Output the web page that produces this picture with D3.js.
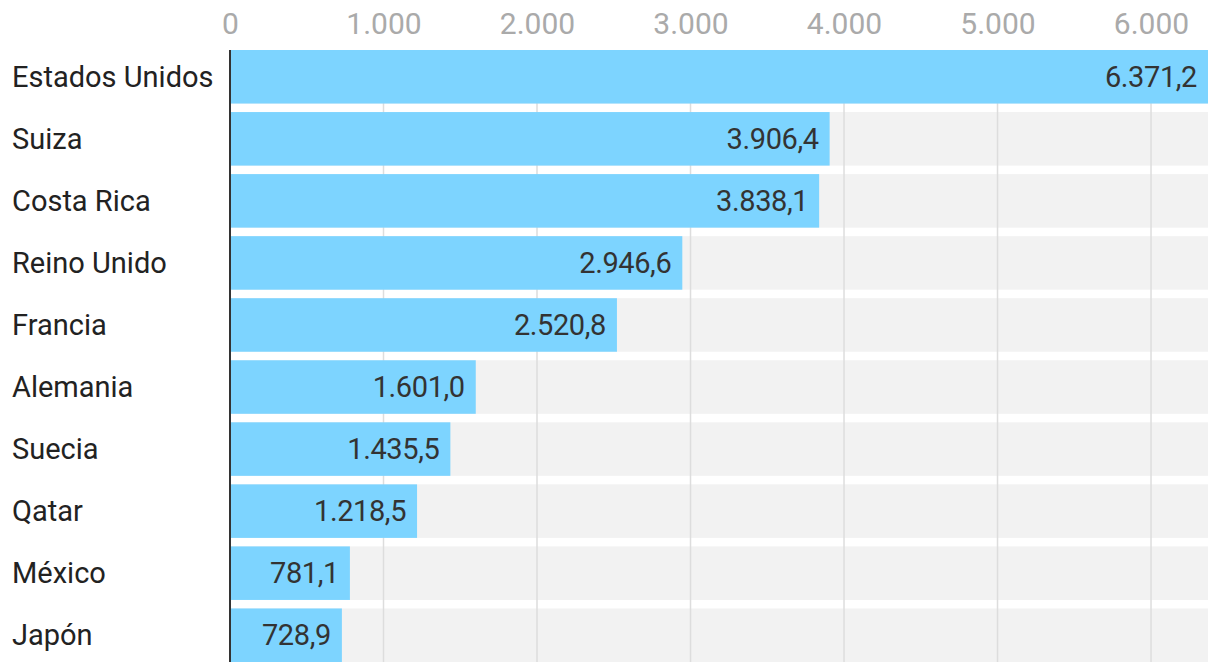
<!DOCTYPE html>
<html><head><meta charset="utf-8">
<script src="https://cdn.jsdelivr.net/npm/d3@7"></script>
<style>
html,body{margin:0;padding:0;background:#fff;}
svg{display:block;}
text{font-family:"Roboto",sans-serif;}
</style></head>
<body>
<svg id="chart" width="1220" height="672"></svg>
<script>
const countries = ["Estados Unidos","Suiza","Costa Rica","Reino Unido","Francia","Alemania","Suecia","Qatar","México","Japón"];
const values = [6371.2,3906.4,3838.1,2946.6,2520.8,1601.0,1435.5,1218.5,781.1,728.9];
const tickValues = [0,1000,2000,3000,4000,5000,6000];

const svg = d3.select("#chart");
const margin = {left:230, top:50};
const x = d3.scaleLinear().domain([0, d3.max(values)]).range([margin.left, 1208]);
const y = d3.scaleBand().domain(countries).range([margin.top, 662]).paddingInner(8.5/62).paddingOuter(0);

const loc = d3.formatLocale({decimal:",", thousands:".", grouping:[3], currency:["","€"]});
const tickFmt = loc.format(",d");
const valFmt = loc.format(",.1f");

const bottom = y(countries[countries.length-1]) + y.bandwidth();

// grey bands
svg.append("g").selectAll("rect").data(countries).join("rect")
  .attr("x", x(0)).attr("width", x.range()[1]-x(0))
  .attr("y", d=>y(d)).attr("height", y.bandwidth())
  .attr("fill", "#f2f2f2");

// axis ticks labels
const xAxis = d3.axisTop(x).tickValues(tickValues).tickFormat(tickFmt).tickSize(0).tickPadding(0);
const gAxis = svg.append("g").attr("transform", `translate(0,${margin.top})`);
gAxis.call(xAxis);
gAxis.select(".domain").remove();
gAxis.selectAll(".tick text").attr("fill","#aaaaaa").attr("font-size","30px").attr("y",-16).attr("dy",0)
  .style("font-family","Roboto, sans-serif");

// grid lines
svg.append("g").selectAll("line").data(tickValues.filter(t=>t>0)).join("line")
  .attr("x1", d=>x(d)).attr("x2", d=>x(d))
  .attr("y1", margin.top).attr("y2", bottom)
  .attr("stroke","#dddddd").attr("stroke-width",1.5);

// bars
svg.append("g").selectAll("rect").data(values).join("rect")
  .attr("x", x(0)).attr("y", (d,i)=>y(countries[i]))
  .attr("width", d=>x(d)-x(0)).attr("height", y.bandwidth())
  .attr("fill", "#7dd4ff");

// value labels
svg.append("g").selectAll("text").data(values).join("text")
  .attr("x", d=>x(d)-11).attr("y", (d,i)=>y(countries[i]) + y.bandwidth()/2 + 10)
  .attr("text-anchor","end").attr("fill","#333333").attr("font-size","29px")
  .style("letter-spacing","-0.4px")
  .text(d=>valFmt(d));

// category labels
const yAxis = d3.axisLeft(y).tickSize(0).tickPadding(0);
const gy = svg.append("g").attr("transform", `translate(${margin.left},0)`).call(yAxis);
gy.select(".domain").remove();
gy.selectAll(".tick text").attr("text-anchor","start").attr("x", 12 - margin.left).attr("dy",0).attr("y",10)
  .attr("fill","#222222").attr("font-size","29px").style("font-family","Roboto, sans-serif");

// zero axis line
svg.append("line").attr("x1", x(0)).attr("x2", x(0))
  .attr("y1", margin.top).attr("y2", bottom)
  .attr("stroke","#333333").attr("stroke-width",2);
</script>
</body></html>
